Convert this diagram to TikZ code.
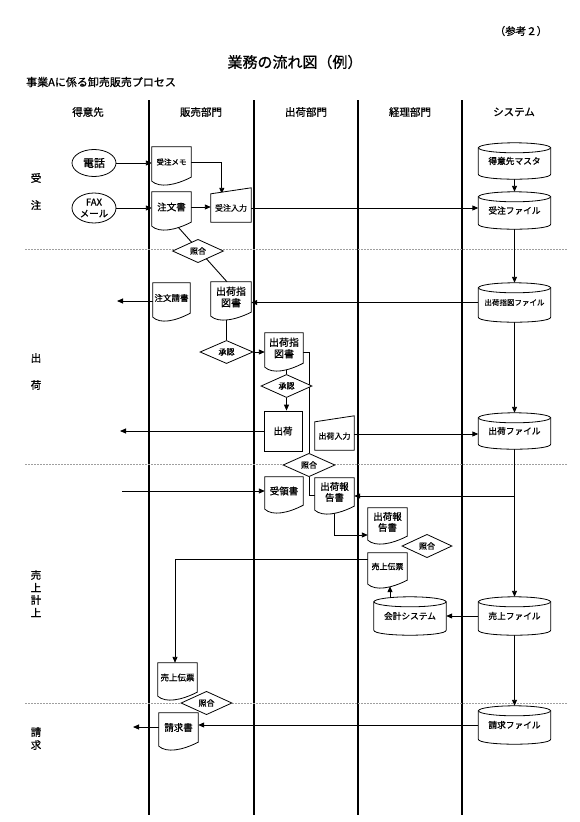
\documentclass[tikz,border=0pt]{standalone}
\usepackage{fontspec}
\setmainfont{Noto Sans CJK JP}[FakeBold=0.9]
\usetikzlibrary{shapes.geometric,arrows.meta,calc}
\pgfdeclarelayer{connlayer}
\pgfdeclarelayer{shplayer}
\pgfsetlayers{connlayer,shplayer,main}
\newcommand{\fz}[1]{\fontsize{#1}{#1}\selectfont}
\newcommand{\docout}[1]{%
  \draw[shpl] (#1.north west) -- (#1.north east) -- (#1.south east)
    .. controls ($(#1.south west)!0.6!(#1.south east)+(0,8)$) and ($(#1.south west)!0.2!(#1.south east)+(0,11)$) .. ($(#1.south west)+(0,4)$) -- cycle;}
\newcommand{\manout}[1]{%
  \draw[shpl] (#1.south west) -- (#1.north west) -- ($(#1.north east)+(0,-6)$) -- (#1.south east) -- cycle;}
\newcommand{\cylout}[1]{%
  \draw[shpl] ($(#1.north west)+(0,5)$) -- ($(#1.south west)+(0,-5)$) .. controls +(0,6.67) and +(0,6.67) .. ($(#1.south east)+(0,-5)$) -- ($(#1.north east)+(0,5)$) -- cycle;
  \draw[shpl] ($(#1.north)+(0,5)$) ellipse [x radius=36, y radius=5];}
\newcommand{\cyt}[1]{\raisebox{-2.5pt}{#1}}
\tikzset{
  lane/.style={line width=1.8pt},
  sepline/.style={gray!75, line width=0.8pt, dash pattern=on 2pt off 1pt},
  conn/.style={line width=0.9pt},
  arr/.style={conn, -{Triangle[length=6pt,width=5pt]}},
  shpl/.style={line width=0.8pt, fill=white},
  docn/.style={inner sep=0pt, minimum width=39pt, minimum height=29pt, align=center, font=\fz{9}},
  mann/.style={inner sep=0pt, minimum width=40pt, minimum height=28pt, align=center, font=\fz{8}},
  cyln/.style={inner sep=0pt, minimum width=72pt, minimum height=38pt, align=center, font=\fz{8.7}},
  ell/.style={draw, line width=0.8pt, shape=ellipse, inner sep=0pt, minimum width=44pt, minimum height=27pt, align=center},
  dia/.style={draw, line width=0.8pt, fill=white, shape=diamond, inner sep=0pt, minimum width=51pt, minimum height=18pt, font=\fz{8}},
  boxn/.style={draw, line width=0.8pt, fill=white, inner sep=0pt, minimum width=38pt, minimum height=40pt, font=\fz{9.5}},
  hdr/.style={font=\fz{10.5}, inner sep=0pt},
  rowl/.style={font=\fz{10.5}, inner sep=0pt}
}
\begin{document}
\begin{tikzpicture}[x=1pt,y=-1pt]
\useasboundingbox (0,0) rectangle (580,822);
% titles
\node[font=\fz{10.5}, inner sep=0pt] (ref) at (521,31) {（参考２）};
\node[font=\fz{15}, inner sep=0pt] (title) at (295,62) {業務の流れ図（例）};
\node[font=\fz{11}, inner sep=0pt, anchor=west] (sub) at (26,82) {事業Aに係る卸売販売プロセス};
% headers
\node[hdr] (h1) at (88,112) {得意先};
\node[hdr] (h2) at (201,112) {販売部門};
\node[hdr] (h3) at (306,112) {出荷部門};
\node[hdr] (h4) at (410,112) {経理部門};
\node[hdr] (h5) at (514,112) {システム};
% row labels
\node[rowl] (r1a) at (36,178) {受};
\node[rowl] (r1b) at (36,205) {注};
\node[rowl] (r2a) at (36,358) {出};
\node[rowl] (r2b) at (36,385) {荷};
\node[rowl] (r3a) at (36,575) {売};
\node[rowl] (r3b) at (36,587.5) {上};
\node[rowl] (r3c) at (36,600) {計};
\node[rowl] (r3d) at (36,612.5) {上};
\node[rowl] (r4a) at (36,732) {請};
\node[rowl] (r4b) at (36,745) {求};
% customer
\node[ell, font=\fz{11}] (tel) at (94,163) {電話};
\node[ell, minimum height=30pt, font=\fz{9.5}] (fax) at (94,208) {FAX\\[2pt]メール};
% documents
\node[docn, minimum height=30pt, font=\fz{7.5}] (memo) at (171.5,162) {受注メモ};
\node[docn, minimum height=30pt, font=\fz{9.5}] (chumon) at (171.5,207) {注文書};
\node[docn, minimum width=37pt, minimum height=30pt, font=\fz{8.5}] (ukesho) at (171.5,298) {注文請書};
\node[docn, minimum width=40pt, minimum height=30pt, font=\fz{10}] (shiji1) at (231,297) {出荷指\\[1.5pt]図書};
\node[docn, minimum width=38pt, minimum height=30pt, font=\fz{10}] (shiji2) at (284,348) {出荷指\\[1.5pt]図書};
\node[docn, minimum width=38pt, minimum height=28pt, font=\fz{9.5}] (juryo) at (284,491) {受領書};
\node[docn, minimum height=28pt, font=\fz{9.5}] (hokoku1) at (334.5,492) {出荷報\\[1.5pt]告書};
\node[docn, minimum height=28pt, font=\fz{9.5}] (hokoku2) at (387.5,522) {出荷報\\[1.5pt]告書};
\node[docn, minimum height=27pt, font=\fz{8}] (denpyo1) at (387.5,566.5) {売上伝票};
\node[docn, font=\fz{8.5}] (denpyo2) at (177.5,677.5) {売上伝票};
\node[docn, font=\fz{9.5}] (seikyu) at (178.5,727.5) {請求書};
% manual inputs
\node[mann] (nyu1) at (231,208) {受注入力};
\node[mann, minimum width=39pt] (nyu2) at (334.5,436) {出荷入力};
% process box
\node[boxn] (shukka) at (283,431) {出荷};
% cylinders
\node[cyln, minimum height=36pt] (master) at (514.5,161) {\cyt{得意先マスタ}};
\node[cyln, minimum height=37pt] (jfile) at (514.5,210.5) {\cyt{受注ファイル}};
\node[cyln, minimum height=39pt, font=\fz{7.5}] (sfile) at (514.5,302.5) {\cyt{出荷指図ファイル}};
\node[cyln, minimum height=36pt] (kfile) at (514.5,431) {\cyt{出荷ファイル}};
\node[cyln] (ufile) at (514.5,616) {\cyt{売上ファイル}};
\node[cyln] (kaikei) at (410,616) {\cyt{会計システム}};
\node[cyln] (seifile) at (514.5,725) {\cyt{請求ファイル}};
% diamonds
\node[dia] (sho1) at (198,251) {照合};
\node[dia, minimum width=53pt] (shonin1) at (226.5,352) {承認};
\node[dia] (shonin2) at (286.5,386) {承認};
\node[dia, minimum width=52pt] (sho2) at (309,465) {照合};
\node[dia, minimum width=50pt] (sho3) at (427,546) {照合};
\node[dia] (sho4) at (206.5,703) {照合};
% free ends and helper points
\coordinate (o1) at (117,301);
\coordinate (o2) at (120,431);
\coordinate (o3) at (122,491);
\coordinate (o4) at (133,727);
\coordinate (hk) at ($(hokoku1.east)+(0,4)$);
\coordinate (ni) at ($(nyu2.east)+(0,-2)$);
% outlines
\begin{pgfonlayer}{shplayer}
\docout{memo}\docout{chumon}\docout{ukesho}\docout{shiji1}\docout{shiji2}
\docout{juryo}\docout{hokoku1}\docout{hokoku2}\docout{denpyo1}\docout{denpyo2}\docout{seikyu}
\manout{nyu1}\manout{nyu2}
\cylout{master}\cylout{jfile}\cylout{sfile}\cylout{kfile}\cylout{ufile}\cylout{kaikei}\cylout{seifile}
\end{pgfonlayer}
% lanes, separators and connectors
\begin{pgfonlayer}{connlayer}
\foreach \x in {149,254,358,462} \draw[lane] (\x,100) -- (\x,815);
\foreach \y in {249,464,703} \draw[sepline] (25,\y) -- (567,\y);
\draw[arr] (tel.east) -- (memo.west |- tel.east);
\draw[arr] (fax.east) -- (chumon.west |- fax.east);
\draw[arr] (chumon.east) -- (nyu1.west |- chumon.east);
\draw[arr] (memo.east) -| ($(nyu1.north west)+(11,0)$);
\draw[arr] (nyu1.east) -- (nyu1.east -| jfile.west);
\draw[arr] (master.south) -- (jfile.north);
\draw[arr] (jfile.south) -- (sfile.north);
\draw[conn] ($(chumon.south)+(4,2)$) -- ($(shiji1.north)+(-4,0)$);
\draw[arr] (sfile.west) -- (sfile.west -| shiji1.east);
\draw[arr] (ukesho.west |- o1) -- (o1);
\draw[conn] (shonin1.north |- shiji1.south) -- (shonin1.north);
\draw[arr] (shonin1.east) -- (shonin1.east -| shiji2.west);
\draw[conn] (shonin2.north |- shiji2.south) -- (shonin2.north);
\draw[conn] ($(shiji2.east)+(0,4)$) -| (sho2.north);
\draw[arr] (shonin2.south) -- (shonin2.south |- shukka.north);
\draw[arr] (shukka.west) -- (o2);
\draw[arr] (ni) -- (ni -| kfile.west);
\draw[arr] (sfile.south) -- (kfile.north);
\draw[arr] (kfile.south) -- (ufile.north);
\draw[arr] (kfile.south |- hk) -- (hk);
\draw[conn] (sho2.south) |- ($(hokoku1.west)+(0,3)$);
\draw[arr] (o3) -- (juryo.west);
\draw[arr] (hokoku1.south) |- ($(hokoku2.west)+(0,13)$);
\draw[arr] ($(denpyo1.west)+(0,-7.5)$) -| ($(denpyo2.north)+(-2.5,0)$);
\draw[arr] ($(kaikei.north)+(-20,2)$) -- ($(denpyo1.south)+(2.5,6)$);
\draw[arr] (ufile.west) -- (kaikei.east);
\draw[arr] (ufile.south) -- (seifile.north);
\draw[arr] (seifile.west) -- (seifile.west -| seikyu.east);
\draw[arr] (seikyu.west |- o4) -- (o4);
\end{pgfonlayer}
\end{tikzpicture}
\end{document}
